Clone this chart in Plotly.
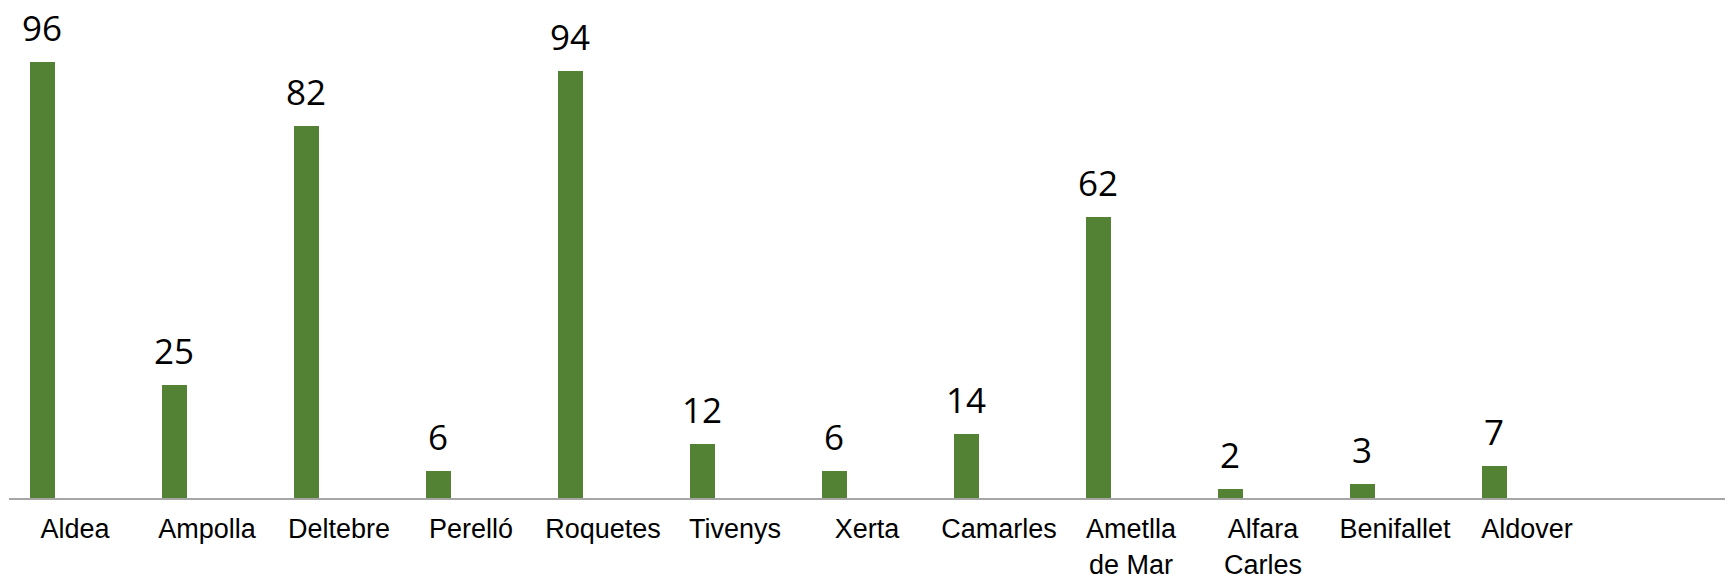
import plotly.graph_objects as go

categories = ["Aldea", "Ampolla", "Deltebre", "Perelló", "Roquetes", "Tivenys",
              "Xerta", "Camarles", "Ametlla<br>de Mar", "Alfara<br>Carles",
              "Benifallet", "Aldover"]
values = [96, 25, 82, 6, 94, 12, 6, 14, 62, 2, 3, 7]

BAR_COLOR = "#548235"
BAR_OFFSET = -0.341
BAR_WIDTH = 0.189

xs = list(range(len(categories)))

fig = go.Figure()
fig.add_trace(go.Bar(
    x=xs, y=values,
    offset=BAR_OFFSET, width=BAR_WIDTH,
    marker=dict(color=BAR_COLOR, line=dict(width=0)),
    hoverinfo="x+y",
))

for x, v in zip(xs, values):
    fig.add_annotation(
        x=x + BAR_OFFSET + BAR_WIDTH / 2, y=v, xref="x", yref="y",
        text=str(v), showarrow=False, yanchor="bottom", yshift=10,
        borderpad=0,
        font=dict(family="'Open Sans', 'Noto Sans', sans-serif", size=35, color="#000000"),
    )

fig.update_layout(
    width=1728, height=578,
    margin=dict(l=9, r=3, t=44, b=80, autoexpand=False),
    paper_bgcolor="white", plot_bgcolor="white",
    showlegend=False,
    bargap=0,
)
fig.update_xaxes(
    range=[-0.5, len(categories) + 0.5],
    tickmode="array", tickvals=xs, ticktext=categories,
    showgrid=False, zeroline=False, automargin=False,
    showline=True, linecolor="#a6a6a6", linewidth=2,
    ticks="", ticklabelstandoff=6,
    tickfont=dict(family="'Liberation Sans', Arial, sans-serif", size=27, color="#000000"),
)
fig.update_yaxes(
    range=[0, 100], visible=False, showgrid=False, zeroline=False, automargin=False,
)

# remove the browser's default 8px body margin so the figure fills the window
fig.write_html("out.html", config={"displayModeBar": False},
               post_script="document.body.style.margin='0';")
